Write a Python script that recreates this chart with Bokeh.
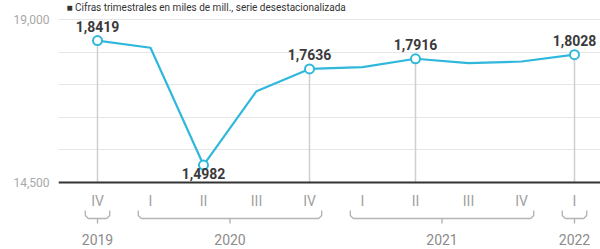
from bokeh.plotting import figure
from bokeh.models import FixedTicker, NumeralTickFormatter, Span, Label, ColumnDataSource, Range1d
from bokeh.core.properties import value
from bokeh.embed import file_html
from bokeh.resources import INLINE

# ---------------- data ----------------
TITLE = "■ Cifras trimestrales en miles de mill., serie desestacionalizada"
QUARTERS = ["IV", "I", "II", "III", "IV", "I", "II", "III", "IV", "I"]
QUARTER_YEARS = [2019, 2020, 2020, 2020, 2020, 2021, 2021, 2021, 2021, 2022]
YEARS = [2019, 2020, 2021, 2022]
VALUES = [1.8419, 1.8220, 1.4982, 1.7020, 1.7636, 1.7683, 1.7916, 1.7793, 1.7840, 1.8028]
LABELLED = [True, False, True, False, True, False, True, False, False, True]
LABEL_BELOW = [False, False, True, False, False, False, False, False, False, False]
DROP_LINE = [True, False, False, False, True, False, True, False, False, True]
Y_AXIS_TICKS = [14500, 19000]
Y_GRID_TICKS = [14500, 15400, 16300, 17200, 18100, 19000]
SCALE = 10000  # label units -> axis units

# ---------------- layout (window pixels; the page has no margin) ----------------
W, H = 600, 249
FRAME_L, FRAME_R, FRAME_T, FRAME_B = 58, 600, 0, 249
X0_PX, DX_PX = 97, 53
Y_LO_PX, Y_HI_PX = 182, 19
Y_LO, Y_HI = Y_AXIS_TICKS[0], Y_AXIS_TICKS[-1]
KY = (Y_HI - Y_LO) / (Y_LO_PX - Y_HI_PX)


def ydata(win_y):
    return Y_LO + (Y_LO_PX - win_y) * KY


x_start = (FRAME_L - X0_PX) / DX_PX
x_end = (FRAME_R - X0_PX) / DX_PX
y_start = ydata(FRAME_B)
y_end = ydata(FRAME_T)

LINE_COLOR = "#2fb8dc"
FONT = "Roboto"

p = figure(width=W, height=H, output_backend="svg", toolbar_location=None,
           x_range=Range1d(x_start, x_end), y_range=Range1d(y_start, y_end),
           x_axis_type=None, min_border_left=FRAME_L, min_border_right=0,
           min_border_top=0, min_border_bottom=0)
p.outline_line_color = None
p.background_fill_color = "white"
p.border_fill_color = "white"

# y axis
ax = p.yaxis[0]
ax.ticker = FixedTicker(ticks=Y_AXIS_TICKS)
ax.formatter = NumeralTickFormatter(format="0,0")
ax.axis_line_color = None
ax.major_tick_line_color = None
ax.minor_tick_line_color = None
ax.major_tick_out = 0
ax.major_label_standoff = 9
ax.major_label_text_font = FONT
ax.major_label_text_font_size = "12px"
ax.major_label_text_color = "#a8a8a8"

p.ygrid.ticker = FixedTicker(ticks=Y_GRID_TICKS)
p.ygrid.grid_line_color = "#e6e6e6"
p.ygrid.grid_line_width = 1.2

xs = list(range(len(VALUES)))
ys = [v * SCALE for v in VALUES]

# drop lines
dx = [x for x, d in zip(xs, DROP_LINE) if d]
dy = [y for y, d in zip(ys, DROP_LINE) if d]
p.segment(x0=dx, y0=[Y_LO] * len(dx), x1=dx, y1=dy, line_color="#cfcfcf", line_width=1.5)

# base axis line
p.add_layout(Span(location=Y_LO, dimension="width", line_color="#333333", line_width=2))

# series
p.line(xs, ys, line_color=LINE_COLOR, line_width=2.2)
mx = [x for x, l in zip(xs, LABELLED) if l]
my = [y for y, l in zip(ys, LABELLED) if l]
p.scatter(mx, my, size=9, fill_color="white", line_color=LINE_COLOR, line_width=2)

# value labels
for below in (False, True):
    sel = [i for i in xs if LABELLED[i] and LABEL_BELOW[i] == below]
    src = ColumnDataSource(dict(
        x=sel, y=[ys[i] for i in sel],
        t=[f"{VALUES[i]:.4f}".replace(".", ",") for i in sel]))
    p.text(x="x", y="y", text="t", source=src, text_font=value(FONT),
           text_font_style="bold", text_font_size="14px", text_color="#3a3a3a",
           text_align="center", text_baseline="middle",
           y_offset=8 if below else -14)

# quarter labels
p.text(x=xs, y=[ydata(200)] * len(xs), text=QUARTERS, text_font=value(FONT),
       text_font_size="14px", text_color="#a0a0a0", text_align="center",
       text_baseline="middle")

# year brackets and labels
top, bar, tick = ydata(210), ydata(218), ydata(223)
rx, ry = 3 / DX_PX, 3 * KY
bxs, bys, txs, tys, yx = [], [], [], [], []
for yr in YEARS:
    idx = [i for i, q in enumerate(QUARTER_YEARS) if q == yr]
    xl, xr = idx[0] - 0.23, idx[-1] + 0.23
    xm = (idx[0] + idx[-1]) / 2
    bxs.append([xl, xl, xl + rx, xr - rx, xr, xr])
    bys.append([top, bar + ry, bar, bar, bar + ry, top])
    txs.append([xm, xm])
    tys.append([bar, tick])
    yx.append(xm)
p.multi_line(bxs, bys, line_color="#b5b5b5", line_width=1.4)
p.multi_line(txs, tys, line_color="#b5b5b5", line_width=1.4)
p.text(x=yx, y=[ydata(239)] * len(yx), text=[str(y) for y in YEARS],
       text_font=value(FONT), text_font_size="14px", text_color="#8c8c8c",
       text_align="center", text_baseline="middle")

# title (small, kept fully visible at the very top)
p.add_layout(Label(x=8, y=H - 1, x_units="screen", y_units="screen",
                   text=TITLE, text_font=FONT, text_font_size="10px",
                   text_color="#333333", text_baseline="top"))

open("out.html", "w").write(file_html(p, INLINE))
